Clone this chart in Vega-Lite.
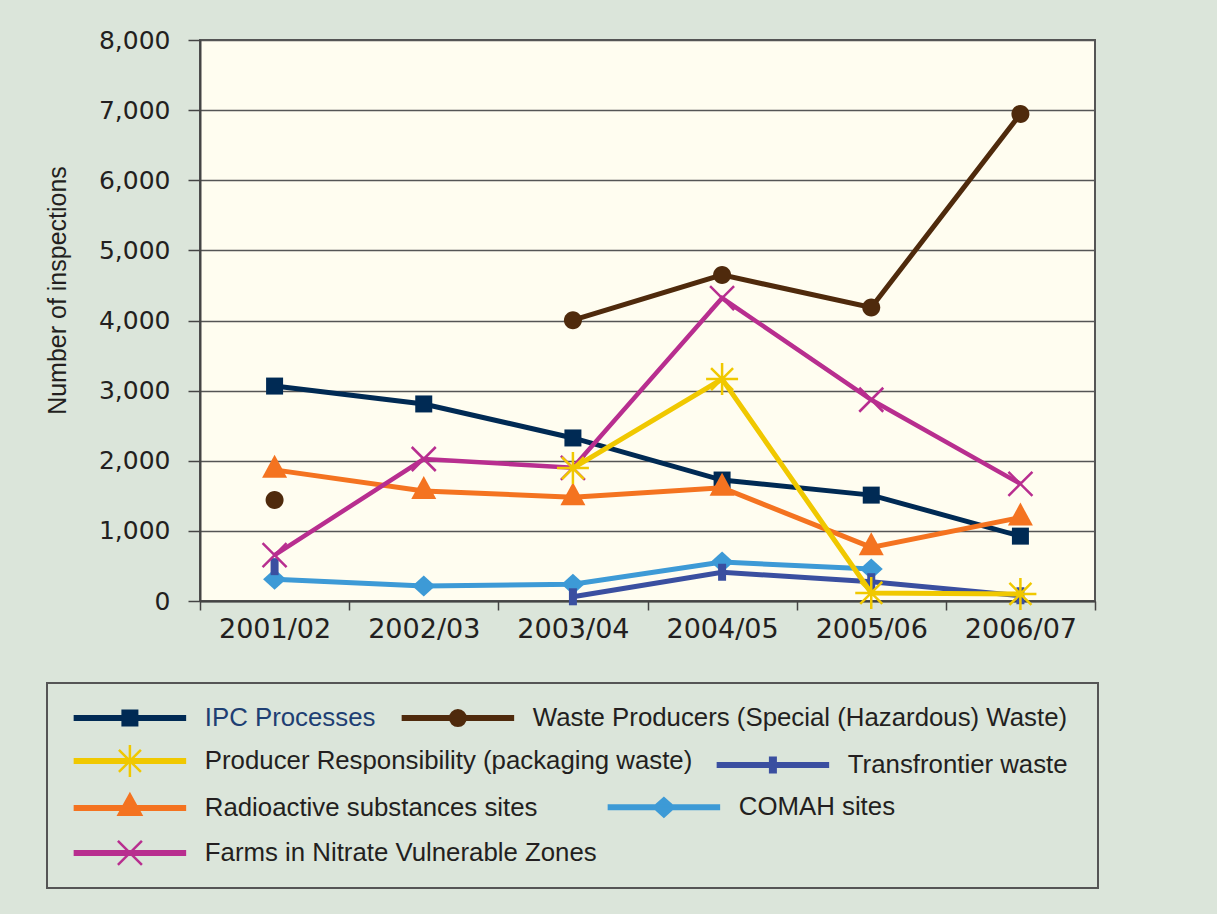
{
  "$schema": "https://vega.github.io/schema/vega-lite/v6.json",
  "width": 895,
  "height": 561,
  "autosize": {"type": "none"},
  "padding": {"left": 200, "top": 40, "right": 122, "bottom": 313},
  "background": "#dbe5da",
  "data": {
    "values": [
      {"year": "2001/02", "series": "COMAH sites", "value": 310},
      {"year": "2002/03", "series": "COMAH sites", "value": 215},
      {"year": "2003/04", "series": "COMAH sites", "value": 240},
      {"year": "2004/05", "series": "COMAH sites", "value": 555},
      {"year": "2005/06", "series": "COMAH sites", "value": 455},
      {"year": "2001/02", "series": "Transfrontier waste", "value": 490},
      {"year": "2002/03", "series": "Transfrontier waste", "value": null},
      {"year": "2003/04", "series": "Transfrontier waste", "value": 60},
      {"year": "2004/05", "series": "Transfrontier waste", "value": 410},
      {"year": "2005/06", "series": "Transfrontier waste", "value": 275},
      {"year": "2006/07", "series": "Transfrontier waste", "value": 75},
      {"year": "2001/02", "series": "IPC Processes", "value": 3065},
      {"year": "2002/03", "series": "IPC Processes", "value": 2810},
      {"year": "2003/04", "series": "IPC Processes", "value": 2325},
      {"year": "2004/05", "series": "IPC Processes", "value": 1725},
      {"year": "2005/06", "series": "IPC Processes", "value": 1510},
      {"year": "2006/07", "series": "IPC Processes", "value": 925},
      {"year": "2001/02", "series": "Radioactive substances sites", "value": 1870},
      {"year": "2002/03", "series": "Radioactive substances sites", "value": 1570},
      {"year": "2003/04", "series": "Radioactive substances sites", "value": 1480},
      {"year": "2004/05", "series": "Radioactive substances sites", "value": 1615},
      {"year": "2005/06", "series": "Radioactive substances sites", "value": 765},
      {"year": "2006/07", "series": "Radioactive substances sites", "value": 1190},
      {"year": "2001/02", "series": "Farms in Nitrate Vulnerable Zones", "value": 655},
      {"year": "2002/03", "series": "Farms in Nitrate Vulnerable Zones", "value": 2025},
      {"year": "2003/04", "series": "Farms in Nitrate Vulnerable Zones", "value": 1900},
      {"year": "2004/05", "series": "Farms in Nitrate Vulnerable Zones", "value": 4320},
      {"year": "2005/06", "series": "Farms in Nitrate Vulnerable Zones", "value": 2870},
      {"year": "2006/07", "series": "Farms in Nitrate Vulnerable Zones", "value": 1670},
      {"year": "2001/02", "series": "Waste Producers (Special (Hazardous) Waste)", "value": 1440},
      {"year": "2002/03", "series": "Waste Producers (Special (Hazardous) Waste)", "value": null},
      {"year": "2003/04", "series": "Waste Producers (Special (Hazardous) Waste)", "value": 4005},
      {"year": "2004/05", "series": "Waste Producers (Special (Hazardous) Waste)", "value": 4650},
      {"year": "2005/06", "series": "Waste Producers (Special (Hazardous) Waste)", "value": 4185},
      {"year": "2006/07", "series": "Waste Producers (Special (Hazardous) Waste)", "value": 6945},
      {"year": "2003/04", "series": "Producer Responsibility (packaging waste)", "value": 1895},
      {"year": "2004/05", "series": "Producer Responsibility (packaging waste)", "value": 3165},
      {"year": "2005/06", "series": "Producer Responsibility (packaging waste)", "value": 115},
      {"year": "2006/07", "series": "Producer Responsibility (packaging waste)", "value": 100}
    ]
  },
  "encoding": {
    "x": {
      "field": "year",
      "type": "ordinal",
      "scale": {"type": "band", "paddingInner": 0, "paddingOuter": 0},
      "axis": {"title": null, "labelAngle": 0, "labelFontSize": 27, "tickBand": "extent", "tickSize": 9, "labelPadding": 6, "grid": false}
    },
    "y": {
      "field": "value",
      "type": "quantitative",
      "scale": {"domain": [0, 8000], "nice": false},
      "axis": {
        "values": [0, 1000, 2000, 3000, 4000, 5000, 6000, 7000, 8000],
        "format": ",.0f",
        "tickSize": 12,
        "labelPadding": 18,
        "grid": true,
        "title": "Number of inspections",
        "titleX": -135,
        "titleY": 250,
        "titleAngle": 270,
        "titleAlign": "center",
        "titleBaseline": "alphabetic"
      }
    }
  },
  "resolve": {"scale": {"color": "independent", "shape": "independent"}, "legend": {"color": "independent", "shape": "independent"}},
  "layer": [
    {
      "transform": [{"filter": "datum.series === 'COMAH sites'"}],
      "layer": [
        {"mark": {"type": "line", "color": "#3d9ad6", "strokeWidth": 5, "invalid": "break-paths-show-domains"}},
        {"mark": {"type": "point", "filled": true, "opacity": 1, "color": "#3d9ad6", "size": 400, "shape": "M0,-1.05L1.15,0L0,1.05L-1.15,0Z"}}
      ]
    },
    {
      "transform": [{"filter": "datum.series === 'Transfrontier waste'"}],
      "layer": [
        {"mark": {"type": "line", "color": "#3a4fa0", "strokeWidth": 5, "invalid": "break-paths-show-domains"}},
        {"mark": {"type": "point", "filled": true, "opacity": 1, "color": "#3a4fa0", "size": 400, "shape": "M-0.4,-0.85H0.4V0.85H-0.4Z"}}
      ]
    },
    {
      "transform": [{"filter": "datum.series === 'IPC Processes'"}],
      "layer": [
        {"mark": {"type": "line", "color": "#002a54", "strokeWidth": 5, "invalid": "break-paths-show-domains"}},
        {"mark": {"type": "point", "filled": true, "opacity": 1, "color": "#002a54", "size": 400, "shape": "M-0.85,-0.85H0.85V0.85H-0.85Z"}}
      ]
    },
    {
      "transform": [{"filter": "datum.series === 'Radioactive substances sites'"}],
      "layer": [
        {"mark": {"type": "line", "color": "#f47320", "strokeWidth": 5, "invalid": "break-paths-show-domains"}},
        {"mark": {"type": "point", "filled": true, "opacity": 1, "color": "#f47320", "size": 400, "shape": "M0,-1.5L1.25,0.8H-1.25Z"}}
      ]
    },
    {
      "transform": [{"filter": "datum.series === 'Farms in Nitrate Vulnerable Zones'"}],
      "layer": [
        {"mark": {"type": "line", "color": "#b82e8f", "strokeWidth": 4.5, "invalid": "break-paths-show-domains"}},
        {"mark": {"type": "point", "filled": false, "opacity": 1, "color": "#b82e8f", "strokeWidth": 2.5, "size": 400, "shape": "M-1.2,-1.2L1.2,1.2M1.2,-1.2L-1.2,1.2"}}
      ]
    },
    {
      "transform": [{"filter": "datum.series === 'Waste Producers (Special (Hazardous) Waste)'"}],
      "layer": [
        {"mark": {"type": "line", "color": "#4f2a0c", "strokeWidth": 5, "invalid": "break-paths-show-domains"}},
        {"mark": {"type": "point", "filled": true, "opacity": 1, "color": "#4f2a0c", "size": 400, "shape": "M0.9,0A0.9,0.9,0,1,1,-0.9,0A0.9,0.9,0,1,1,0.9,0Z"}}
      ]
    },
    {
      "transform": [{"filter": "datum.series === 'Producer Responsibility (packaging waste)'"}],
      "layer": [
        {"mark": {"type": "line", "color": "#f0c800", "strokeWidth": 5, "invalid": "break-paths-show-domains"}},
        {"mark": {"type": "point", "filled": false, "opacity": 1, "color": "#f0c800", "strokeWidth": 2.5, "size": 400, "shape": "M0,-1.6V1.6M-1.6,0H1.6M-1.1,-1.1L1.1,1.1M1.1,-1.1L-1.1,1.1"}}
      ]
    },
    {
      "transform": [{"filter": "datum.series === 'IPC Processes'"}],
      "mark": {"type": "point", "filled": true, "opacity": 0, "size": 400},
      "encoding": {
        "color": {
          "field": "series", "type": "nominal",
          "scale": {"domain": ["IPC Processes"], "range": ["#dbe5da"]},
          "legend": {
            "legendX": -153, "legendY": 643, "zindex": 0, "padding": 0,
            "fillColor": "#dbe5da", "strokeColor": "#555555",
            "symbolOffset": 0, "labelExpr": "''",
            "encode": {
              "symbols": {"update": {"opacity": {"value": 0}, "shape": {"value": "M-1,-1H103.8V19.2H-1Z"}}}
            }
          }
        }
      }
    },
    {
      "transform": [{"filter": "datum.series === 'IPC Processes' || datum.series === 'Waste Producers (Special (Hazardous) Waste)'"}],
      "mark": {"type": "point", "filled": true, "opacity": 0, "size": 400, "strokeWidth": 2.5},
      "encoding": {
        "color": {
          "field": "series", "type": "nominal",
          "scale": {"domain": ["IPC Processes", "Waste Producers (Special (Hazardous) Waste)"], "range": ["#002a54", "#4f2a0c"]},
          "legend": {
            "legendX": -134, "legendY": 665, "columnPadding": 18, "zindex": 1,
            "encode": {
              "symbols": {"update": {"opacity": {"value": 1},
                "fill": [{"test": "datum.value === 'IPC Processes'", "value": "#002a54"}, {"value": "#4f2a0c"}],
                "stroke": [{"test": "datum.value === 'IPC Processes'", "value": "#002a54"}, {"value": "#4f2a0c"}]}},
              "labels": {"update": {"fill": [{"test": "datum.value === 'IPC Processes'", "value": "#1e3f73"}, {"value": "#231f20"}]}}
            }
          }
        },
        "shape": {
          "field": "series", "type": "nominal",
          "scale": {"domain": ["IPC Processes", "Waste Producers (Special (Hazardous) Waste)"], "range": [
            "M-5.5,-0.175H5.5V0.175H-5.5ZM-0.725,-0.725H0.725V0.725H-0.725Z",
            "M-5.5,-0.175H5.5V0.175H-5.5ZM0.775,0A0.775,0.775,0,1,1,-0.775,0A0.775,0.775,0,1,1,0.775,0Z"
          ]}
        }
      }
    },
    {
      "transform": [{"filter": "datum.series === 'Producer Responsibility (packaging waste)' || datum.series === 'Transfrontier waste'"}],
      "mark": {"type": "point", "filled": true, "opacity": 0, "size": 400, "strokeWidth": 2.5},
      "encoding": {
        "color": {
          "field": "series", "type": "nominal",
          "scale": {"domain": ["Producer Responsibility (packaging waste)", "Transfrontier waste"], "range": ["#f0c800", "#3a4fa0"]},
          "legend": {
            "legendX": -134, "legendY": 708, "columnPadding": 16, "zindex": 1,
            "encode": {
              "symbols": {"update": {"opacity": {"value": 1},
                "fill": [{"test": "datum.value === 'Transfrontier waste'", "value": "#3a4fa0"}, {"value": "#f0c800"}],
                "stroke": [{"test": "datum.value === 'Transfrontier waste'", "value": "#3a4fa0"}, {"value": "#f0c800"}]}},
              "labels": {"update": {"fill": {"value": "#231f20"}}}
            }
          }
        },
        "shape": {
          "field": "series", "type": "nominal",
          "scale": {"domain": ["Producer Responsibility (packaging waste)", "Transfrontier waste"], "range": [
            "M-5.5,-0.175H5.5V0.175H-5.5ZM0,-1.6V1.6M-1.6,0H1.6M-1.1,-1.1L1.1,1.1M1.1,-1.1L-1.1,1.1",
            "M-5.5,-0.175H5.5V0.175H-5.5ZM-0.275,-0.725H0.275V0.725H-0.275Z"
          ]}
        }
      }
    },
    {
      "transform": [{"filter": "datum.series === 'Radioactive substances sites' || datum.series === 'COMAH sites'"}],
      "mark": {"type": "point", "filled": true, "opacity": 0, "size": 400, "strokeWidth": 2.5},
      "encoding": {
        "color": {
          "field": "series", "type": "nominal",
          "scale": {"domain": ["Radioactive substances sites", "COMAH sites"], "range": ["#f47320", "#3d9ad6"]},
          "legend": {
            "legendX": -134, "legendY": 754, "columnPadding": 62, "zindex": 1,
            "encode": {
              "symbols": {"update": {"opacity": {"value": 1},
                "fill": [{"test": "datum.value === 'COMAH sites'", "value": "#3d9ad6"}, {"value": "#f47320"}],
                "stroke": [{"test": "datum.value === 'COMAH sites'", "value": "#3d9ad6"}, {"value": "#f47320"}]}},
              "labels": {"update": {"fill": {"value": "#231f20"}}}
            }
          }
        },
        "shape": {
          "field": "series", "type": "nominal",
          "scale": {"domain": ["Radioactive substances sites", "COMAH sites"], "range": [
            "M-5.5,-0.175H5.5V0.175H-5.5ZM0,-1.375L1.125,0.675H-1.125Z",
            "M-5.5,-0.175H5.5V0.175H-5.5ZM0,-0.925L1.025,0L0,0.925L-1.025,0Z"
          ]}
        }
      }
    },
    {
      "transform": [{"filter": "datum.series === 'Farms in Nitrate Vulnerable Zones'"}],
      "mark": {"type": "point", "filled": true, "opacity": 0, "size": 400, "strokeWidth": 2.5},
      "encoding": {
        "color": {
          "field": "series", "type": "nominal",
          "scale": {"domain": ["Farms in Nitrate Vulnerable Zones"], "range": ["#b82e8f"]},
          "legend": {
            "legendX": -134, "legendY": 800, "zindex": 1,
            "encode": {
              "symbols": {"update": {"opacity": {"value": 1}, "fill": {"value": "#b82e8f"}, "stroke": {"value": "#b82e8f"}}},
              "labels": {"update": {"fill": {"value": "#231f20"}}}
            }
          }
        },
        "shape": {
          "field": "series", "type": "nominal",
          "scale": {"domain": ["Farms in Nitrate Vulnerable Zones"], "range": [
            "M-5.5,-0.175H5.5V0.175H-5.5ZM-1.2,-1.2L1.2,1.2M1.2,-1.2L-1.2,1.2"
          ]}
        }
      }
    }
  ],
  "config": {
    "font": "Liberation Sans",
    "view": {"fill": "#fffdf0", "stroke": "#555555", "strokeWidth": 2},
    "axis": {
      "labelFont": "DejaVu Sans",
      "labelFontSize": 25,
      "labelColor": "#231f20",
      "domainColor": "#444444",
      "domainWidth": 2,
      "tickColor": "#444444",
      "tickWidth": 1.5,
      "gridColor": "#555555",
      "gridWidth": 1.5,
      "gridOpacity": 1,
      "titleFont": "Liberation Sans",
      "titleFontSize": 25,
      "titleFontWeight": "normal",
      "titleColor": "#231f20"
    },
    "legend": {
      "orient": "none",
      "title": null,
      "direction": "horizontal",
      "padding": 0,
      "strokeWidth": 2,
      "symbolSize": 400,
      "symbolStrokeWidth": 2.5,
      "symbolOffset": 51,
      "labelOffset": 62,
      "labelFont": "Liberation Sans",
      "labelFontSize": 25.8,
      "labelColor": "#231f20",
      "labelLimit": 700
    }
  }
}
